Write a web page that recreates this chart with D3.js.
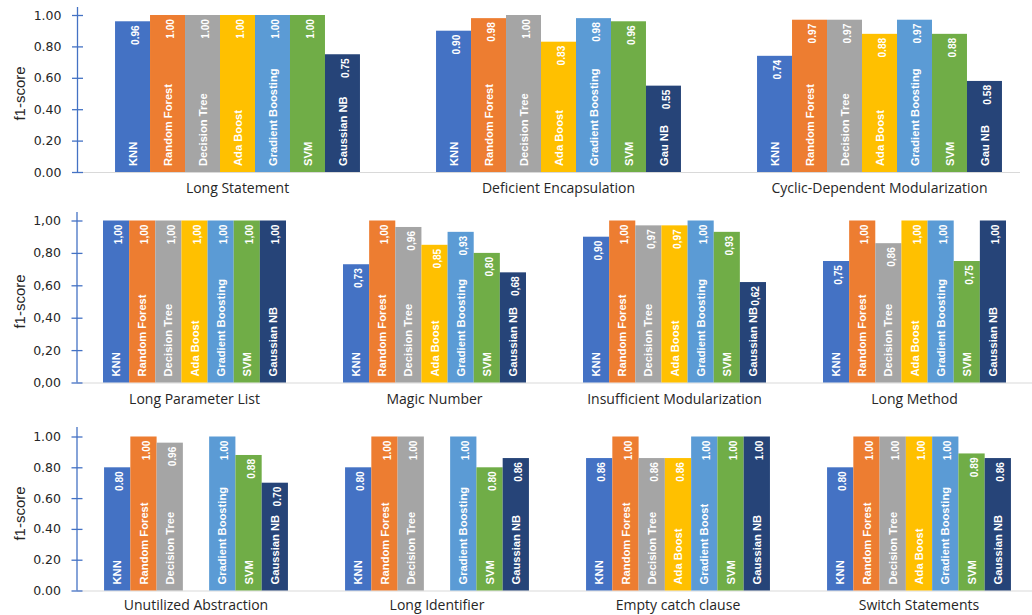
<!DOCTYPE html>
<html>
<head>
<meta charset="utf-8">
<script src="https://cdn.jsdelivr.net/npm/d3@7"></script>
<style>
  html, body { margin: 0; padding: 0; background: #ffffff; }
  svg { display: block; }
</style>
</head>
<body>
<svg id="chart" width="1032" height="615"></svg>
<script>
// Classifiers, in drawing order inside every group
const models = ["KNN", "Random Forest", "Decision Tree", "Ada Boost", "Gradient Boosting", "SVM", "Gaussian NB"];
const modelColors = ["#4472C4", "#ED7D31", "#A5A5A5", "#FFC000", "#5B9BD5", "#70AD47", "#264478"];

// Row 1: design smells
const row1Smells = ["Long Statement", "Deficient Encapsulation", "Cyclic-Dependent Modularization"];
const row1Scores = [
  [0.96, 1.00, 1.00, 1.00, 1.00, 1.00, 0.75],
  [0.90, 0.98, 1.00, 0.83, 0.98, 0.96, 0.55],
  [0.74, 0.97, 0.97, 0.88, 0.97, 0.88, 0.58]
];
const row1Names = [
  models,
  ["KNN", "Random Forest", "Decision Tree", "Ada Boost", "Gradient Boosting", "SVM", "Gau NB"],
  ["KNN", "Random Forest", "Decision Tree", "Ada Boost", "Gradient Boosting", "SVM", "Gau NB"]
];

// Row 2: implementation smells (comma decimals)
const row2Smells = ["Long Parameter List", "Magic Number", "Insufficient Modularization", "Long Method"];
const row2Scores = [
  [1.00, 1.00, 1.00, 1.00, 1.00, 1.00, 1.00],
  [0.73, 1.00, 0.96, 0.85, 0.93, 0.80, 0.68],
  [0.90, 1.00, 0.97, 0.97, 1.00, 0.93, 0.62],
  [0.75, 1.00, 0.86, 1.00, 1.00, 0.75, 1.00]
];
const row2Names = [models, models, models, models];

// Row 3: remaining smells (null = classifier not reported)
const row3Smells = ["Unutilized Abstraction", "Long Identifier", "Empty catch clause", "Switch Statements"];
const row3Scores = [
  [0.80, 1.00, 0.96, null, 1.00, 0.88, 0.70],
  [0.80, 1.00, 1.00, null, 1.00, 0.80, 0.86],
  [0.86, 1.00, 0.86, 0.86, 1.00, 1.00, 1.00],
  [0.80, 1.00, 1.00, 1.00, 1.00, 0.89, 0.86]
];
const row3Names = [
  models,
  models,
  ["KNN", "Random Forest", "Decision Tree", "Ada Boost", "Gradient Boost", "SVM", "Gaussian NB"],
  models
];

const yTicks = [0, 0.2, 0.4, 0.6, 0.8, 1.0];

const svg = d3.select("#chart");
const fmtDot = d3.format(".2f");
const fmtComma = v => d3.format(".2f")(v).replace(".", ",");

function drawRow(cfg) {
  const g = svg.append("g");
  const y = d3.scaleLinear().domain([0, 1]).range([cfg.y0, cfg.y1]);
  const x0 = d3.scaleBand().domain(cfg.smells).range(cfg.xRange)
    .paddingInner(cfg.pad).paddingOuter(cfg.pad / 2);
  const x1 = d3.scaleBand().domain(models).range([0, x0.bandwidth()]);
  const fmt = cfg.comma ? fmtComma : fmtDot;

  // baseline
  g.append("line")
    .attr("x1", cfg.axisX).attr("x2", cfg.baseEnd)
    .attr("y1", y(0) + 0.5).attr("y2", y(0) + 0.5)
    .attr("stroke", "#d9d9d9").attr("stroke-width", 1.2);

  // y axis
  const axis = d3.axisLeft(y).tickValues(yTicks).tickFormat(fmt).tickSize(0).tickPadding(16);
  const ag = g.append("g").attr("transform", `translate(${cfg.axisX},0)`).call(axis);
  ag.select(".domain").remove();
  ag.selectAll(".tick text")
    .attr("font-family", "'DejaVu Sans', sans-serif")
    .attr("font-size", 12.5)
    .attr("fill", "#262626");
  ag.append("line")
    .attr("x1", 0).attr("x2", 0)
    .attr("y1", cfg.axisTop).attr("y2", y(0))
    .attr("stroke", "#4472C4").attr("stroke-width", 1.3);
  ag.selectAll(".tick").append("line")
    .attr("x1", -5.5).attr("x2", 5.5)
    .attr("stroke", "#4472C4").attr("stroke-width", 1.3);

  // y title
  g.append("text")
    .attr("transform", `translate(${cfg.titleX},${(cfg.y0 + cfg.y1) / 2}) rotate(-90)`)
    .attr("text-anchor", "middle")
    .attr("dy", "0.35em")
    .attr("font-family", "'Liberation Sans', Arial, sans-serif")
    .attr("font-size", 15)
    .attr("fill", "#262626")
    .text("f1-score");

  cfg.smells.forEach((smell, gi) => {
    const gx = x0(smell);
    const rows = models.map((m, i) => ({
      model: m, name: cfg.names[gi][i], value: cfg.scores[gi][i], color: modelColors[i]
    })).filter(d => d.value !== null);

    const grp = g.append("g").attr("transform", `translate(${gx},0)`);

    grp.selectAll("rect").data(rows).join("rect")
      .attr("x", d => x1(d.model))
      .attr("width", x1.bandwidth())
      .attr("y", d => y(d.value))
      .attr("height", d => y(0) - y(d.value))
      .attr("fill", d => d.color);

    // classifier name, reading upward from the base
    grp.selectAll("text.name").data(rows).join("text")
      .attr("class", "name")
      .attr("transform", d => `translate(${x1(d.model) + x1.bandwidth() / 2},${y(0) - 6}) rotate(-90)`)
      .attr("dy", "0.36em")
      .attr("font-family", "'Liberation Sans', Arial, sans-serif")
      .attr("font-weight", "bold")
      .attr("font-size", 11.2)
      .attr("fill", "#ffffff")
      .text(d => d.name);

    // value, inside the top end (slightly condensed)
    grp.selectAll("text.val").data(rows).join("text")
      .attr("class", "val")
      .attr("transform", d => `translate(${x1(d.model) + x1.bandwidth() / 2 + 2},${y(d.value) + 4}) rotate(-90) scale(0.88,1)`)
      .attr("text-anchor", "end")
      .attr("dy", "0.36em")
      .attr("font-family", "'Liberation Sans', Arial, sans-serif")
      .attr("font-weight", "bold")
      .attr("font-size", 11.5)
      .attr("fill", "#ffffff")
      .text(d => fmt(d.value));

    // smell name under the group
    g.append("text")
      .attr("x", gx + x0.bandwidth() / 2)
      .attr("y", cfg.labelY)
      .attr("text-anchor", "middle")
      .attr("font-family", "'Open Sans', sans-serif")
      .attr("font-size", 14)
      .attr("fill", "#262626")
      .text(smell);
  });
}

drawRow({
  smells: row1Smells, scores: row1Scores, names: row1Names, comma: false,
  y0: 172, y1: 15, axisX: 77.5, axisTop: 7, baseEnd: 1020,
  xRange: [77, 1040], pad: 0.237, labelY: 192.5, titleX: 20
});
drawRow({
  smells: row2Smells, scores: row2Scores, names: row2Names, comma: true,
  y0: 382.5, y1: 220.5, axisX: 77, axisTop: 212, baseEnd: 1032,
  xRange: [74.5, 1034.5], pad: 0.2375, labelY: 404, titleX: 20
});
drawRow({
  smells: row3Smells, scores: row3Scores, names: row3Names, comma: false,
  y0: 590.5, y1: 436.5, axisX: 77, axisTop: 427, baseEnd: 1032,
  xRange: [75.5, 1039.5], pad: 0.237, labelY: 610, titleX: 20
});
</script>
</body>
</html>
